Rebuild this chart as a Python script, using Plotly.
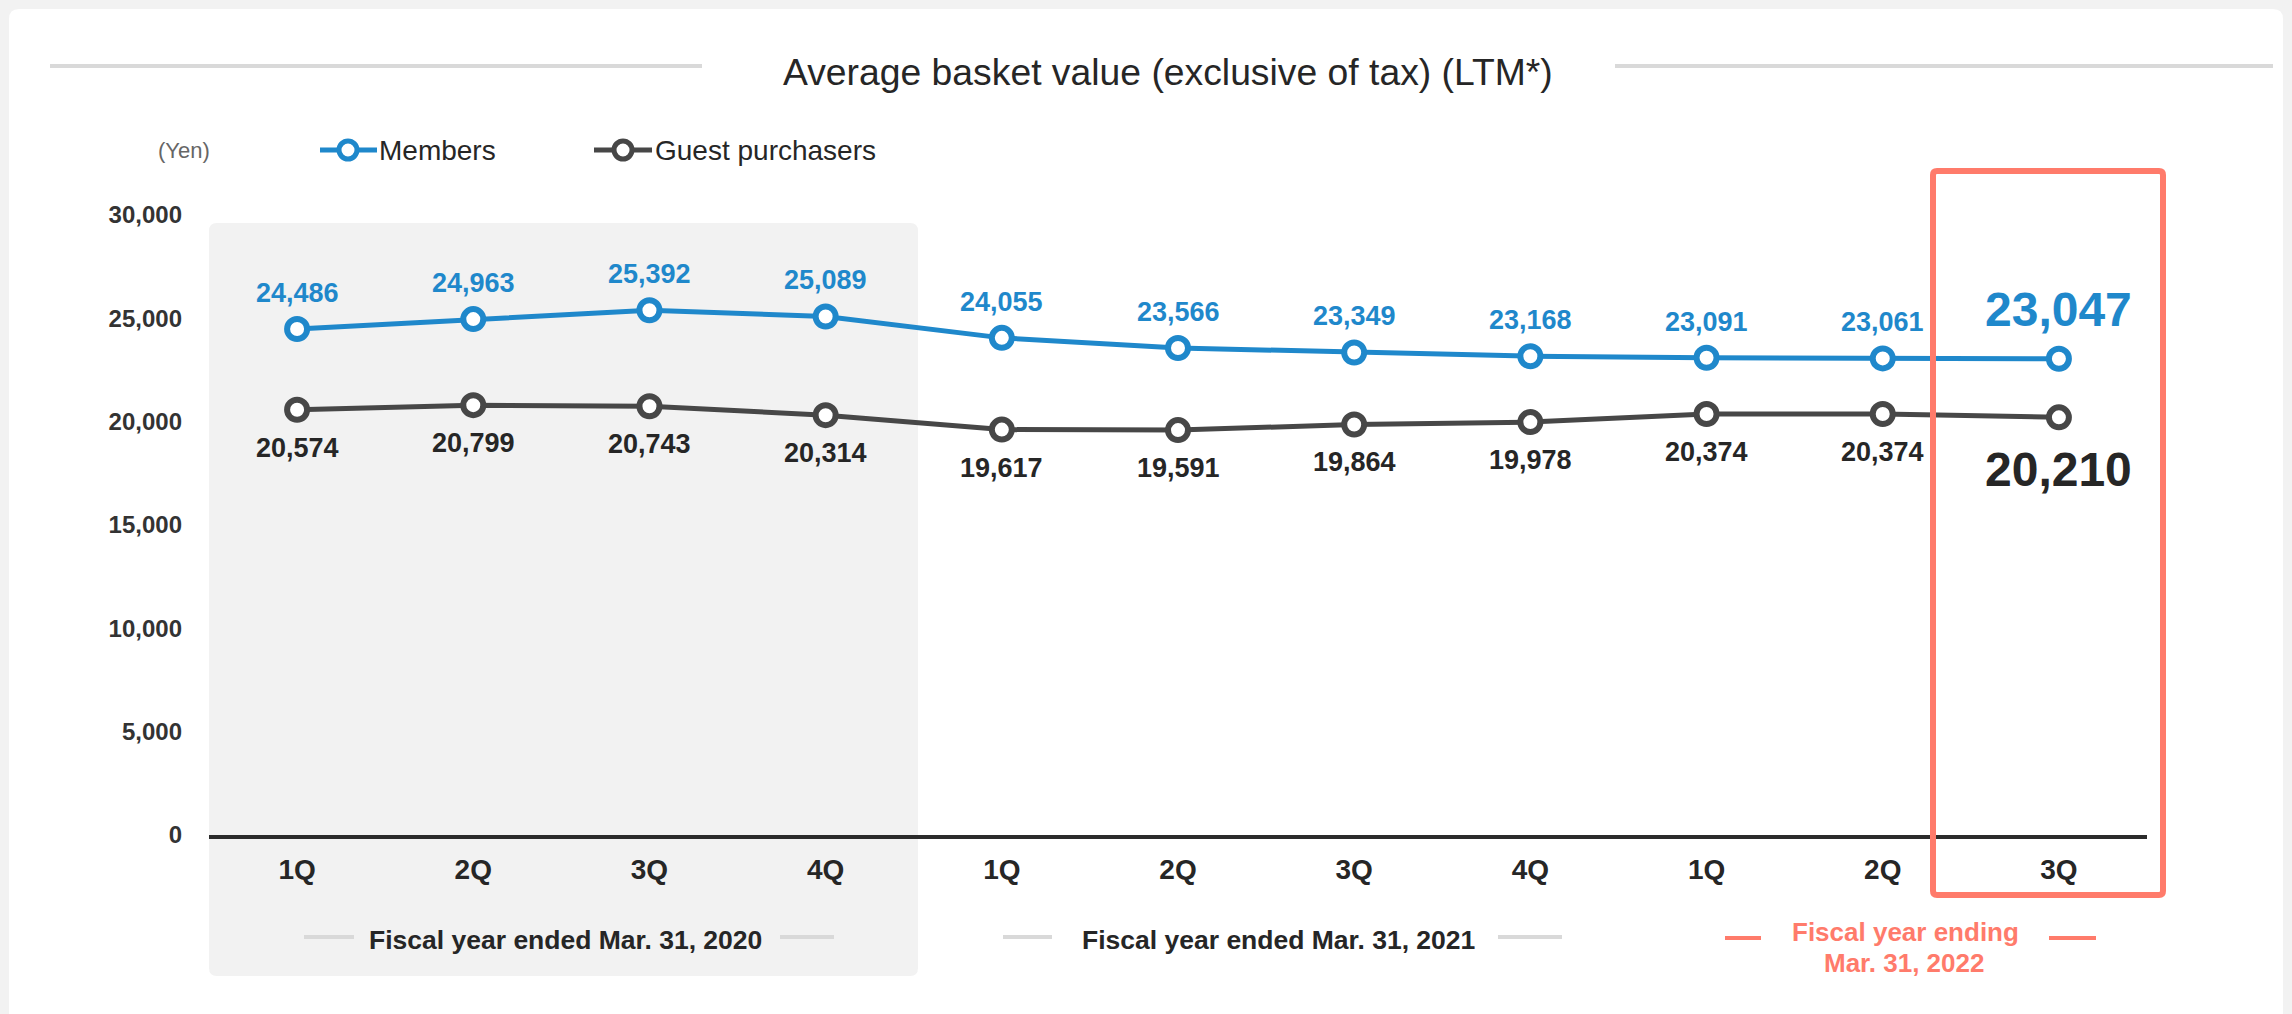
import plotly.graph_objects as go

# ---------------- data ----------------
quarters = ["1Q", "2Q", "3Q", "4Q", "1Q", "2Q", "3Q", "4Q", "1Q", "2Q", "3Q"]
members = [24486, 24963, 25392, 25089, 24055, 23566, 23349, 23168, 23091, 23061, 23047]
guests = [20574, 20799, 20743, 20314, 19617, 19591, 19864, 19978, 20374, 20374, 20210]
y_ticks = [0, 5000, 10000, 15000, 20000, 25000, 30000]
series_names = ["Members", "Guest purchasers"]
fiscal_years = ["Fiscal year ended Mar. 31, 2020", "Fiscal year ended Mar. 31, 2021",
                "Fiscal year ending", "Mar. 31, 2022"]
title_text = "Average basket value (exclusive of tax) (LTM*)"
unit_text = "(Yen)"

# ---------------- style ----------------
W, H = 2292, 1014
L, R, T, B = 209, 145, 215, 179
PW, PH = W - L - R, H - T - B
FONT = "Liberation Sans, Arial, sans-serif"
BLUE = "#1f88cb"
DARK = "#474747"
TXT = "#262626"
SALMON = "#ff7b6b"
LIGHT = "#d9d9d9"
BG = "#f2f2f2"


def px(x):
    return (x - L) / PW


def py(y):
    return (H - B - y) / PH


def rrect(x0, y0, x1, y1, r):
    rx, ry = r / PW, r / PH
    a0, a1 = px(x0), px(x1)
    b0, b1 = py(y0), py(y1)  # b0 top (larger), b1 bottom
    return (f"M {a0+rx},{b0} L {a1-rx},{b0} Q {a1},{b0} {a1},{b0-ry} "
            f"L {a1},{b1+ry} Q {a1},{b1} {a1-rx},{b1} L {a0+rx},{b1} "
            f"Q {a0},{b1} {a0},{b1+ry} L {a0},{b0-ry} Q {a0},{b0} {a0+rx},{b0} Z")


xs = list(range(len(quarters)))
fig = go.Figure()
fig.add_trace(go.Scatter(
    x=xs, y=members, mode="lines+markers", name=series_names[0],
    line=dict(color=BLUE, width=5),
    marker=dict(symbol="circle", size=20, color="white", line=dict(color=BLUE, width=6)),
    hoverinfo="skip", showlegend=False))
fig.add_trace(go.Scatter(
    x=xs, y=guests, mode="lines+markers", name=series_names[1],
    line=dict(color=DARK, width=5),
    marker=dict(symbol="circle", size=20, color="white", line=dict(color=DARK, width=6)),
    hoverinfo="skip", showlegend=False))

shapes = []
annotations = []

# card + shaded year box + highlight box
shapes.append(dict(type="path", xref="paper", yref="paper", layer="below",
                   path=rrect(9, 9, 2283, 1060, 10), fillcolor="white", line=dict(width=0)))
shapes.append(dict(type="path", xref="paper", yref="paper", layer="below",
                   path=rrect(209, 223, 918, 976, 8), fillcolor=BG, line=dict(width=0)))
shapes.append(dict(type="path", xref="paper", yref="paper", layer="above",
                   path=rrect(1933, 171, 2163, 895, 4), line=dict(color=SALMON, width=6)))

# title rules
for x0, x1 in [(50, 702), (1615, 2273)]:
    shapes.append(dict(type="line", xref="paper", yref="paper", x0=px(x0), x1=px(x1),
                       y0=py(66), y1=py(66), line=dict(color=LIGHT, width=4)))
annotations.append(dict(text=title_text, xref="paper", yref="paper", x=px(1168), y=py(72),
                        showarrow=False, xanchor="center", yanchor="middle",
                        font=dict(family=FONT, size=37.3, color=TXT)))

# legend (custom)
annotations.append(dict(text=unit_text, xref="paper", yref="paper", x=px(184), y=py(150),
                        showarrow=False, xanchor="center", yanchor="middle",
                        font=dict(family=FONT, size=22, color="#666666")))
for (lx0, lx1, cx, tx), col, name in [((320, 377, 348, 377), BLUE, series_names[0]),
                                      ((594, 652, 623, 653), DARK, series_names[1])]:
    shapes.append(dict(type="line", xref="paper", yref="paper", x0=px(lx0), x1=px(lx1),
                       y0=py(150), y1=py(150), line=dict(color=col, width=5)))
    shapes.append(dict(type="circle", xref="paper", yref="paper", x0=px(cx - 9), x1=px(cx + 9),
                       y0=py(159), y1=py(141), fillcolor="white", line=dict(color=col, width=5)))
    annotations.append(dict(text=name, xref="paper", yref="paper", x=px(tx), y=py(150),
                            showarrow=False, xanchor="left", yanchor="middle",
                            font=dict(family=FONT, size=28, color=TXT)))

# data labels
n = len(quarters)
for i, v in enumerate(members):
    big = i == n - 1
    annotations.append(dict(text=f"{v:,}", x=i, y=v, xref="x", yref="y", showarrow=False,
                            xanchor="center", yanchor="middle", yshift=49 if big else 36,
                            font=dict(family=FONT, size=48 if big else 27, color=BLUE, weight="bold")))
for i, v in enumerate(guests):
    big = i == n - 1
    annotations.append(dict(text=f"{v:,}", x=i, y=v, xref="x", yref="y", showarrow=False,
                            xanchor="center", yanchor="middle", yshift=-52 if big else -38,
                            font=dict(family=FONT, size=48 if big else 27, color=TXT, weight="bold")))

# fiscal year group labels
groups = [
    (fiscal_years[0], 565, 940, TXT, [(304, 354, 937), (780, 834, 937)]),
    (fiscal_years[1], 1278, 940, TXT, [(1003, 1052, 937), (1498, 1562, 937)]),
]
for text, cx, cy, col, dashes in groups:
    annotations.append(dict(text=text, xref="paper", yref="paper", x=px(cx), y=py(cy),
                            showarrow=False, xanchor="center", yanchor="middle",
                            font=dict(family=FONT, size=26.5, color=col, weight="bold")))
    for d0, d1, dy in dashes:
        shapes.append(dict(type="line", xref="paper", yref="paper", x0=px(d0), x1=px(d1),
                           y0=py(dy), y1=py(dy), line=dict(color=LIGHT, width=4)))
annotations.append(dict(text=fiscal_years[2], xref="paper", yref="paper", x=px(1905), y=py(932),
                        showarrow=False, xanchor="center", yanchor="middle",
                        font=dict(family=FONT, size=26, color=SALMON, weight="bold")))
annotations.append(dict(text=fiscal_years[3], xref="paper", yref="paper", x=px(1904), y=py(963),
                        showarrow=False, xanchor="center", yanchor="middle",
                        font=dict(family=FONT, size=26, color=SALMON, weight="bold")))
for d0, d1 in [(1725, 1761), (2049, 2096)]:
    shapes.append(dict(type="line", xref="paper", yref="paper", x0=px(d0), x1=px(d1),
                       y0=py(938), y1=py(938), line=dict(color=SALMON, width=4)))

fig.update_layout(
    width=W, height=H,
    margin=dict(l=L, r=R, t=T, b=B, autoexpand=False),
    paper_bgcolor=BG, plot_bgcolor="rgba(0,0,0,0)",
    shapes=shapes, annotations=annotations, showlegend=False,
    font=dict(family=FONT),
    xaxis=dict(range=[-0.5, n - 0.5], tickvals=xs, ticktext=quarters, showgrid=False,
               zeroline=False, showline=True, linecolor="#2b2b2b", linewidth=4, ticks="",
               ticklabelstandoff=6, automargin=False,
               tickfont=dict(family=FONT, size=28, color=TXT, weight="bold")),
    yaxis=dict(range=[0, 30000], tickvals=y_ticks, tickformat=",d", showgrid=False,
               zeroline=False, showline=False, ticks="", ticklabelstandoff=26, automargin=False,
               tickfont=dict(family=FONT, size=24, color="#333333", weight="bold")),
)

fig.write_html("out.html")
